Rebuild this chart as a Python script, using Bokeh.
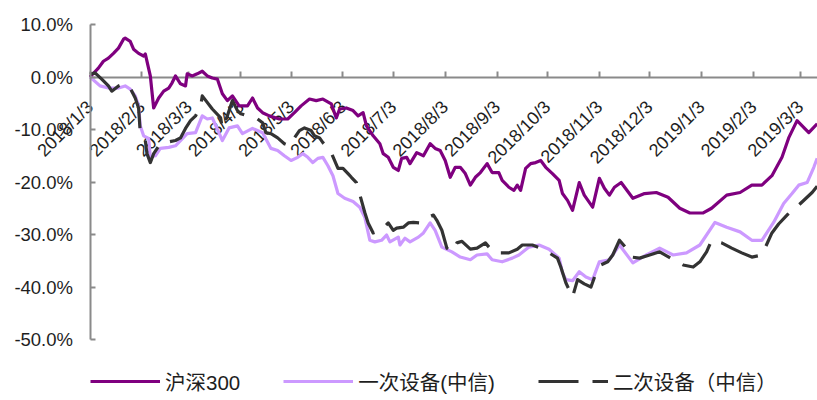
import math
import pandas as pd
from bokeh.plotting import figure
from bokeh.models import (DatetimeAxis, FixedTicker, Legend, LegendItem, LinearAxis,
                          Range1d, PrintfTickFormatter)
from bokeh.embed import file_html
from bokeh.resources import INLINE

# ---------------- data (percent change since 2018-01-03) ----------------
hs300_dates = [
    "2018-01-03", "2018-01-08", "2018-01-11", "2018-01-14", "2018-01-17", "2018-01-20",
    "2018-01-23", "2018-01-24", "2018-01-27", "2018-01-29", "2018-02-01", "2018-02-04",
    "2018-02-05", "2018-02-08", "2018-02-10", "2018-02-13", "2018-02-16", "2018-02-19",
    "2018-02-21", "2018-02-23", "2018-02-26", "2018-03-01", "2018-03-02", "2018-03-05",
    "2018-03-08", "2018-03-11", "2018-03-14", "2018-03-17", "2018-03-20", "2018-03-23",
    "2018-03-26", "2018-03-29", "2018-04-02", "2018-04-07", "2018-04-10", "2018-04-13",
    "2018-04-16", "2018-04-20", "2018-04-26", "2018-05-01", "2018-05-05", "2018-05-09",
    "2018-05-14", "2018-05-18", "2018-05-22", "2018-05-27", "2018-05-30", "2018-06-01",
    "2018-06-05", "2018-06-09", "2018-06-12", "2018-06-15", "2018-06-17", "2018-06-21",
    "2018-06-25", "2018-06-27", "2018-06-30", "2018-07-03", "2018-07-06", "2018-07-08",
    "2018-07-11", "2018-07-13", "2018-07-17", "2018-07-21", "2018-07-25", "2018-07-28",
    "2018-07-31", "2018-08-03", "2018-08-06", "2018-08-09", "2018-08-12", "2018-08-15",
    "2018-08-18", "2018-08-21", "2018-08-24", "2018-08-28", "2018-08-31", "2018-09-04",
    "2018-09-06", "2018-09-10", "2018-09-13", "2018-09-15", "2018-09-17", "2018-09-20",
    "2018-09-23", "2018-09-26", "2018-09-29", "2018-10-02", "2018-10-06", "2018-10-10",
    "2018-10-12", "2018-10-15", "2018-10-18", "2018-10-22", "2018-10-25", "2018-10-30",
    "2018-11-03", "2018-11-06", "2018-11-09", "2018-11-12", "2018-11-16", "2018-11-23",
    "2018-11-30", "2018-12-07", "2018-12-14", "2018-12-21", "2018-12-27", "2019-01-04",
    "2019-01-09", "2019-01-18", "2019-01-26", "2019-02-02", "2019-02-08", "2019-02-14",
    "2019-02-20", "2019-02-24", "2019-03-01", "2019-03-08", "2019-03-13",
]
hs300_vals = [
    0.0, 1.7, 3.0, 3.6, 4.5, 5.5,
    7.2, 7.4, 6.8, 5.3, 4.5, 4.0,
    4.4, 0.2, -5.9, -4.0, -2.7, -2.1,
    -1.1, 0.2, -1.3, -1.7, 0.6, 0.2,
    0.6, 1.1, 0.2, -0.2, -0.4, -3.2,
    -4.5, -3.6, -5.5, -5.5, -4.0, -5.9,
    -6.8, -7.4, -8.0, -8.0, -6.8, -5.5,
    -4.2, -4.5, -4.2, -5.1, -7.8, -6.1,
    -5.9, -6.4, -7.4, -6.8, -9.3, -11.2,
    -12.7, -14.6, -15.3, -17.2, -17.8, -15.5,
    -15.3, -16.5, -14.4, -15.0, -12.7, -13.6,
    -14.0, -15.9, -19.1, -17.2, -17.2, -18.4,
    -20.6, -19.1, -18.2, -16.5, -18.2, -18.2,
    -19.7, -21.0, -21.6, -20.6, -21.6, -17.4,
    -16.5, -16.3, -15.9, -17.2, -18.4, -19.7,
    -22.2, -23.5, -25.4, -20.1, -22.5, -24.8,
    -19.3, -21.2, -22.5, -21.0, -20.1, -23.1,
    -22.2, -22.0, -22.9, -25.0, -25.9, -25.9,
    -25.0, -22.5, -22.0, -20.6, -20.6, -18.8,
    -15.3, -11.6, -8.3, -10.6, -8.9,
]

prim_dates = [
    "2018-01-03", "2018-01-09", "2018-01-14", "2018-01-20", "2018-01-24", "2018-01-27",
    "2018-01-30", "2018-02-01", "2018-02-02", "2018-02-04", "2018-02-07", "2018-02-08",
    "2018-02-11", "2018-02-14", "2018-02-19", "2018-02-23", "2018-02-26", "2018-03-02",
    "2018-03-07", "2018-03-11", "2018-03-14", "2018-03-17", "2018-03-23", "2018-03-27",
    "2018-04-01", "2018-04-04", "2018-04-10", "2018-04-16", "2018-04-21", "2018-04-25",
    "2018-04-29", "2018-05-03", "2018-05-07", "2018-05-10", "2018-05-13", "2018-05-16",
    "2018-05-19", "2018-05-22", "2018-05-25", "2018-05-28", "2018-05-31", "2018-06-04",
    "2018-06-09", "2018-06-13", "2018-06-16", "2018-06-19", "2018-06-22", "2018-06-26",
    "2018-06-29", "2018-07-01", "2018-07-06", "2018-07-07", "2018-07-10", "2018-07-13",
    "2018-07-18", "2018-07-21", "2018-07-25", "2018-07-28", "2018-08-01", "2018-08-07",
    "2018-08-12", "2018-08-18", "2018-08-22", "2018-08-28", "2018-08-31", "2018-09-06",
    "2018-09-12", "2018-09-16", "2018-09-22", "2018-09-28", "2018-10-04", "2018-10-10",
    "2018-10-12", "2018-10-14", "2018-10-18", "2018-10-22", "2018-10-26", "2018-10-30",
    "2018-11-03", "2018-11-09", "2018-11-15", "2018-11-23", "2018-12-01", "2018-12-09",
    "2018-12-17", "2018-12-25", "2019-01-02", "2019-01-11", "2019-01-18", "2019-01-26",
    "2019-02-02", "2019-02-08", "2019-02-15", "2019-02-21", "2019-02-26", "2019-03-02",
    "2019-03-07", "2019-03-11", "2019-03-13",
]
prim_vals = [
    0.0, -1.7, -2.1, -2.1, -1.7, -2.3,
    -3.6, -5.5, -9.3, -11.2, -11.7, -15.3,
    -15.0, -13.6, -13.4, -13.1, -12.1, -10.8,
    -10.6, -7.4, -8.0, -7.8, -12.1, -9.7,
    -9.3, -10.8, -9.8, -10.6, -13.6, -14.0,
    -15.0, -15.9, -15.3, -14.6, -15.3, -16.3,
    -15.5, -15.3, -16.9, -18.8, -22.2, -23.1,
    -23.7, -24.8, -26.7, -31.1, -31.4, -31.1,
    -30.1, -31.4, -30.5, -32.0, -30.7, -31.4,
    -30.5, -29.7, -27.8, -29.2, -32.4, -33.3,
    -34.3, -34.8, -33.9, -33.7, -34.8, -35.2,
    -34.5, -33.9, -32.4, -32.0, -32.8, -34.5,
    -37.3, -38.6, -38.8, -37.1, -38.1, -38.6,
    -35.2, -34.8, -32.0, -35.4, -33.9, -32.6,
    -33.9, -33.5, -32.0, -27.7, -28.6, -29.5,
    -31.1, -31.1, -27.7, -24.1, -22.2, -20.6,
    -20.1, -17.2, -15.5,
]

sec_dates = [
    "2018-01-03", "2018-01-06", "2018-01-10", "2018-01-14", "2018-01-16", "2018-01-20",
    "2018-01-23", "2018-01-27", "2018-01-30", "2018-02-01", "2018-02-02", "2018-02-05",
    "2018-02-06", "2018-02-08", "2018-02-10", "2018-02-14", "2018-02-17", "2018-02-23",
    "2018-02-26", "2018-03-01", "2018-03-04", "2018-03-07", "2018-03-10", "2018-03-11",
    "2018-03-17", "2018-03-22", "2018-03-23", "2018-03-26", "2018-03-29", "2018-04-01",
    "2018-04-03", "2018-04-07", "2018-04-13", "2018-04-16", "2018-04-18", "2018-04-21",
    "2018-04-25", "2018-04-29", "2018-05-02", "2018-05-05", "2018-05-08", "2018-05-11",
    "2018-05-15", "2018-05-17", "2018-05-20", "2018-05-22", "2018-05-25", "2018-05-27",
    "2018-05-31", "2018-06-03", "2018-06-06", "2018-06-08", "2018-06-11", "2018-06-14",
    "2018-06-16", "2018-06-18", "2018-06-21", "2018-06-24", "2018-06-27", "2018-06-30",
    "2018-07-03", "2018-07-05", "2018-07-09", "2018-07-12", "2018-07-15", "2018-07-19",
    "2018-07-24", "2018-07-27", "2018-07-29", "2018-08-01", "2018-08-04", "2018-08-07",
    "2018-08-10", "2018-08-13", "2018-08-18", "2018-08-22", "2018-08-27", "2018-08-31",
    "2018-09-03", "2018-09-10", "2018-09-15", "2018-09-18", "2018-09-24", "2018-09-29",
    "2018-10-04", "2018-10-09", "2018-10-11", "2018-10-14", "2018-10-18", "2018-10-21",
    "2018-10-25", "2018-10-29", "2018-11-01", "2018-11-04", "2018-11-08", "2018-11-11",
    "2018-11-15", "2018-11-19", "2018-11-22", "2018-11-27", "2018-12-03", "2018-12-09",
    "2018-12-17", "2018-12-23", "2018-12-29", "2019-01-02", "2019-01-06", "2019-01-09",
    "2019-01-15", "2019-01-21", "2019-01-27", "2019-02-02", "2019-02-08", "2019-02-14",
    "2019-02-18", "2019-02-23", "2019-03-02", "2019-03-10", "2019-03-13",
]
sec_vals = [
    0.5, 0.8, -0.4, -1.7, -2.7, -1.7,
    -1.3, -2.1, -4.0, -5.9, -10.6, -12.1,
    -14.6, -16.3, -14.6, -12.7, -12.5, -12.1,
    -11.6, -9.8, -8.3, -7.4, -5.7, -3.6,
    -6.1, -7.8, -9.8, -7.4, -4.5, -6.4,
    -7.0, -7.4, -8.0, -8.7, -10.6, -10.8,
    -11.6, -12.7, -13.1, -11.6, -10.2, -9.7,
    -10.2, -11.2, -11.6, -12.5, -13.6, -14.4,
    -17.4, -17.4, -18.4, -19.1, -20.1, -23.5,
    -25.8, -27.8, -29.7, -29.4, -28.8, -27.8,
    -29.2, -28.8, -28.6, -27.8, -27.7, -27.8,
    -26.7, -26.3, -27.3, -29.2, -32.6, -33.3,
    -31.6, -31.3, -32.8, -32.6, -31.6, -33.1,
    -33.5, -33.5, -32.8, -32.0, -32.0, -32.6,
    -33.5, -34.5, -36.2, -39.2, -41.9, -38.6,
    -39.4, -40.0, -37.3, -35.8, -35.2, -33.9,
    -31.1, -32.6, -34.3, -34.5, -33.9, -33.3,
    -34.8, -35.8, -36.2, -35.2, -33.3, -31.1,
    -31.6, -32.6, -33.5, -34.3, -33.9, -29.7,
    -28.0, -26.3, -24.4, -22.0, -20.8,
]

series_names = ["沪深300", "一次设备(中信)", "二次设备（中信）"]

x_tick_dates = [
    "2018-01-03", "2018-02-03", "2018-03-03", "2018-04-03", "2018-05-03", "2018-06-03",
    "2018-07-03", "2018-08-03", "2018-09-03", "2018-10-03", "2018-11-03", "2018-12-03",
    "2019-01-03", "2019-02-03", "2019-03-03",
]
x_tick_labels = [
    "2018/1/3", "2018/2/3", "2018/3/3", "2018/4/3", "2018/5/3", "2018/6/3",
    "2018/7/3", "2018/8/3", "2018/9/3", "2018/10/3", "2018/11/3", "2018/12/3",
    "2019/1/3", "2019/2/3", "2019/3/3",
]
y_ticks = [-50, -40, -30, -20, -10, 0, 10]
y_min, y_max = -50, 10
x_first = "2018-01-03"
x_last_days = 434.2   # visible span after the first date, in days

# ---------------- figure ----------------
FONT = "Liberation Sans, Noto Sans CJK SC"
AXIS_GRAY = "#8a8a8a"
TEXT = "#1e1e1e"

W, H = 817, 400
AXIS_X = 89.5          # where the value axis sits, px from the left
TOP, BOTTOM_GAP = 24, 61

# The frame fills the whole page; both axes are placed at fixed data
# locations inside it, so all labels, ticks and the legend live in the frame.
t0 = pd.Timestamp(x_first)
px_per_day = (W - AXIS_X) / x_last_days
x_start = t0 - pd.Timedelta(days=AXIS_X / px_per_day)
x_end = t0 + pd.Timedelta(days=x_last_days)

px_per_pct = (H - TOP - BOTTOM_GAP) / (y_max - y_min)
y_top = y_max + TOP / px_per_pct
y_bottom = y_min - BOTTOM_GAP / px_per_pct

p = figure(width=W, height=H, output_backend="svg", toolbar_location=None,
           x_axis_type=None, y_axis_type=None,
           x_range=Range1d(x_start, x_end), y_range=Range1d(y_bottom, y_top),
           min_border=0)
p.outline_line_color = None
p.background_fill_color = "white"
p.border_fill_color = "white"

t0_ms = t0.value / 1e6
x_end_ms = x_end.value / 1e6

# value axis at the first date
ya = LinearAxis(fixed_location=t0_ms, bounds=(y_min, y_max),
                ticker=FixedTicker(ticks=y_ticks),
                formatter=PrintfTickFormatter(format="%.1f%%"),
                major_tick_in=5, major_tick_out=0,
                minor_tick_in=0, minor_tick_out=0,
                axis_line_color=AXIS_GRAY, axis_line_width=2,
                major_tick_line_color=AXIS_GRAY, major_tick_line_width=2,
                major_label_standoff=17,
                major_label_text_font=FONT,
                major_label_text_font_size="18.5px",
                major_label_text_color=TEXT)
p.add_layout(ya, "left")

# date axis on the 0% line (drawn beneath the lines)
tick_ms = [pd.Timestamp(d).value / 1e6 for d in x_tick_dates]
xa = DatetimeAxis(fixed_location=0, bounds=(t0_ms, x_end_ms),
                  ticker=FixedTicker(ticks=tick_ms),
                  major_label_overrides={t: l for t, l in zip(tick_ms, x_tick_labels)},
                  major_label_orientation=math.pi / 4,
                  major_tick_in=6, major_tick_out=0,
                  minor_tick_in=0, minor_tick_out=0,
                  axis_line_color=AXIS_GRAY, axis_line_width=2,
                  major_tick_line_color=AXIS_GRAY, major_tick_line_width=2,
                  major_label_standoff=27,
                  major_label_text_font=FONT,
                  major_label_text_font_size="18px",
                  major_label_text_color=TEXT)
xa.level = "underlay"
p.add_layout(xa, "below")

# lines
r1 = p.line(pd.to_datetime(hs300_dates), hs300_vals, line_color="#7f007f",
            line_width=3.2, line_join="round")
r2 = p.line(pd.to_datetime(prim_dates), prim_vals, line_color="#cc99ff",
            line_width=3.2, line_join="round")
r3 = p.line(pd.to_datetime(sec_dates), sec_vals, line_color="#333333",
            line_width=3.2, line_join="round", line_dash="40 14")

legend = Legend(items=[LegendItem(label=series_names[0], renderers=[r1]),
                       LegendItem(label=series_names[1], renderers=[r2]),
                       LegendItem(label=series_names[2], renderers=[r3])],
                orientation="horizontal", location=(90, 4),
                glyph_width=70, glyph_height=20, label_standoff=5, spacing=43,
                padding=0, margin=0, border_line_color=None,
                background_fill_alpha=0,
                label_text_font=FONT, label_text_font_size="20.5px",
                label_text_color=TEXT)
p.add_layout(legend)

open("out.html", "w").write(file_html(p, INLINE))
